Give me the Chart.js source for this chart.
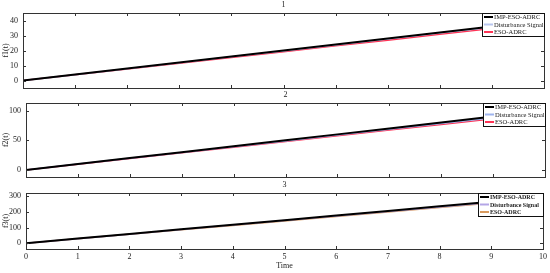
<!DOCTYPE html>
<html>
<head>
<meta charset="utf-8">
<script src="https://cdn.jsdelivr.net/npm/chart.js@4.4.1/dist/chart.umd.min.js"></script>
<style>
  body { margin: 0; background: #fff; }
  #wrap { position: relative; width: 550px; height: 273px; }
  #wrap canvas { position: absolute; left: 0; top: 0; }
</style>
</head>
<body>
<div id="wrap">
  <canvas id="c1" width="550" height="273"></canvas>
  <canvas id="c2" width="550" height="273"></canvas>
  <canvas id="c3" width="550" height="273"></canvas>
</div>
<script>
// time axis
const time = [0, 1, 2, 3, 4, 5, 6, 7, 8, 9, 10];
const xTicks = [0, 1, 2, 3, 4, 5, 6, 7, 8, 9, 10];
const seriesNames = ['IMP-ESO-ADRC', 'Disturbance Signal', 'ESO-ADRC'];

// subplot 1
const imp1 = [0, 4.0, 8.0, 12.0, 16.0, 20.0, 24.0, 28.0, 32.0, 36.0, 40.0];
const dist1 = [0, 3.9, 7.9, 11.8, 15.8, 19.7, 23.7, 27.6, 31.6, 35.5, 39.5];
const eso1 = [0, 3.85, 7.7, 11.5, 15.4, 19.2, 23.1, 26.9, 30.8, 34.6, 38.5];
const yTicks1 = [0, 10, 20, 30, 40];

// subplot 2
const imp2 = [0, 10, 20, 30, 40, 50, 60, 70, 80, 90, 100];
const dist2 = [0, 9.8, 19.6, 29.4, 39.2, 49, 58.8, 68.6, 78.4, 88.2, 98];
const eso2 = [0, 9.6, 19.2, 28.8, 38.4, 48, 57.6, 67.2, 76.8, 86.4, 96];
const yTicks2 = [0, 50, 100];

// subplot 3
const imp3 = [0, 29.5, 59, 88.5, 118, 147.5, 177, 206.5, 236, 265.5, 295];
const dist3 = [0, 29, 58, 87, 116, 145, 174, 203, 232, 261, 290];
const eso3 = [0, 28.5, 57, 85.5, 114, 142.5, 171, 199.5, 228, 256.5, 285];
const yTicks3 = [0, 100, 200, 300];

const FONT = 'Liberation Serif';

function pts(ys) {
  return time.map((t, i) => ({ x: t, y: ys[i] }));
}

// frame, inward ticks, subplot title and boxed legend
const framePlugin = {
  id: 'frame',
  afterDraw(chart, args, o) {
    const ctx = chart.ctx;
    const a = chart.chartArea;
    const xs = chart.scales.x, ys = chart.scales.y;
    ctx.save();
    ctx.strokeStyle = '#333';
    ctx.lineWidth = 1;
    ctx.beginPath();
    xTicks.forEach(v => {
      const px = Math.round(xs.getPixelForValue(v)) + 0.5;
      ctx.moveTo(px, a.top); ctx.lineTo(px, a.top + 3);
      ctx.moveTo(px, a.bottom); ctx.lineTo(px, a.bottom - 3);
    });
    o.yTicks.forEach(v => {
      const py = Math.round(ys.getPixelForValue(v)) + 0.5;
      ctx.moveTo(a.left, py); ctx.lineTo(a.left + 3, py);
      ctx.moveTo(a.right, py); ctx.lineTo(a.right - 3, py);
    });
    ctx.stroke();
    ctx.strokeRect(Math.round(a.left) + 0.5, Math.round(a.top) + 0.5,
      Math.round(a.right - a.left), Math.round(a.bottom - a.top));

    // subplot title
    ctx.fillStyle = '#222';
    ctx.font = '8px "' + FONT + '"';
    ctx.textAlign = 'center';
    ctx.textBaseline = 'middle';
    ctx.fillText(o.title, (a.left + a.right) / 2, a.top - 8);

    // legend box
    const w = o.legendW, h = 23;
    const lx = a.right - w, ly = a.top;
    ctx.fillStyle = '#fff';
    ctx.fillRect(lx, ly, w, h);
    ctx.strokeStyle = '#111';
    ctx.strokeRect(Math.round(lx) + 0.5, Math.round(ly) + 0.5, w, h);
    ctx.textAlign = 'left';
    ctx.font = (o.bold ? 'bold 6px "' : '6.5px "') + FONT + '"';
    chart.data.datasets.forEach((ds, i) => {
      const ry = ly + 4 + i * 7.5;
      ctx.strokeStyle = ds.borderColor;
      ctx.lineWidth = 2;
      ctx.beginPath();
      ctx.moveTo(lx + 2, ry); ctx.lineTo(lx + 11, ry);
      ctx.stroke();
      ctx.fillStyle = '#222';
      ctx.fillText(ds.label, lx + 12, ry + 0.5);
    });
    ctx.restore();
  }
};

function makeChart(id, p) {
  const ctx = document.getElementById(id).getContext('2d');
  return new Chart(ctx, {
    type: 'line',
    data: {
      datasets: [
        { label: seriesNames[0], data: pts(p.imp), borderColor: '#000', borderWidth: 2, order: 0 },
        { label: seriesNames[1], data: pts(p.dist), borderColor: p.distColor, borderWidth: 1.5, order: 1 },
        { label: seriesNames[2], data: pts(p.eso), borderColor: p.esoColor, borderWidth: 1.5, order: 2 }
      ]
    },
    options: {
      responsive: false,
      animation: false,
      devicePixelRatio: 1,
      elements: { point: { radius: 0 }, line: { tension: 0 } },
      layout: { padding: { left: 0, right: 550 - p.right, top: p.top, bottom: p.padBottom } },
      plugins: {
        legend: { display: false },
        tooltip: { enabled: false },
        frame: { title: p.title, yTicks: p.yTicks, legendW: p.legendW, bold: p.bold }
      },
      scales: {
        x: {
          type: 'linear',
          min: 0, max: 10,
          display: p.showX,
          afterBuildTicks: s => { s.ticks = xTicks.map(v => ({ value: v })); },
          afterFit: s => { s.height = p.xHeight; },
          grid: { display: false, drawTicks: false },
          border: { display: false },
          ticks: { padding: 3, color: '#222', font: { family: FONT, size: 8 } },
          title: { display: true, text: 'Time', color: '#222', padding: { top: 0, bottom: 2 }, font: { family: FONT, size: 8 } }
        },
        y: {
          min: p.yMin, max: p.yMax,
          afterBuildTicks: s => { s.ticks = p.yTicks.map(v => ({ value: v })); },
          afterFit: s => { s.width = p.left; },
          grid: { display: false, drawTicks: false },
          border: { display: false },
          ticks: { padding: 5, color: '#222', font: { family: FONT, size: 8 } },
          title: { display: true, text: p.yLabel, color: '#222', padding: { top: 1, bottom: 0 }, font: { family: FONT, size: 8 } }
        }
      }
    },
    plugins: [framePlugin]
  });
}

makeChart('c1', {
  title: '1', yLabel: 'f1(t)', imp: imp1, dist: dist1, eso: eso1,
  distColor: '#b9c6ee', esoColor: '#ff3355',
  yMin: -5, yMax: 45, yTicks: yTicks1,
  left: 23, right: 544, top: 13, padBottom: 273 - 88, showX: false, xHeight: 0,
  legendW: 62, bold: false
});

makeChart('c2', {
  title: '2', yLabel: 'f2(t)', imp: imp2, dist: dist2, eso: eso2,
  distColor: '#9fb4ee', esoColor: '#ff3355',
  yMin: -12, yMax: 113, yTicks: yTicks2,
  left: 26, right: 545, top: 103, padBottom: 273 - 177, showX: false, xHeight: 0,
  legendW: 62, bold: false
});

makeChart('c3', {
  title: '3', yLabel: 'f3(t)', imp: imp3, dist: dist3, eso: eso3,
  distColor: '#b4a6e6', esoColor: '#d99a5e',
  yMin: -37, yMax: 321, yTicks: yTicks3,
  left: 26, right: 545, top: 193, padBottom: 0, showX: true, xHeight: 24,
  legendW: 65, bold: true
});
</script>
</body>
</html>
